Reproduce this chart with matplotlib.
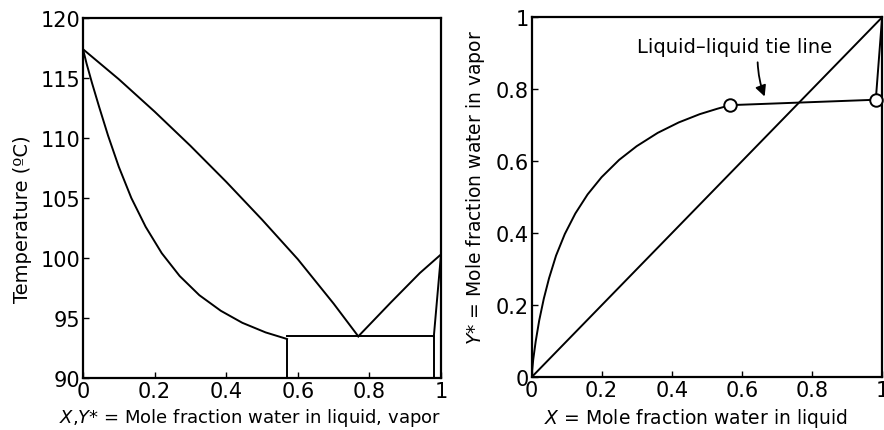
import matplotlib
matplotlib.use("Agg")
import matplotlib.pyplot as plt

plt.rcParams["font.family"] = ["DejaVu Sans"]
plt.rcParams["mathtext.fontset"] = "dejavusans"

# Left panel: T-x-y diagram, water mole fraction vs temperature
bubble_x = [0.0, 0.010, 0.025, 0.045, 0.070, 0.100, 0.135, 0.175, 0.220, 0.270,
            0.325, 0.385, 0.445, 0.510, 0.570]
bubble_t = [117.4, 116.2, 114.6, 112.6, 110.2, 107.6, 105.0, 102.6, 100.4, 98.5,
            96.9, 95.6, 94.6, 93.8, 93.25]
dew_x = [0.0, 0.1, 0.2, 0.3, 0.4, 0.5, 0.6, 0.7, 0.769]
dew_t = [117.4, 114.9, 112.2, 109.35, 106.35, 103.2, 99.9, 96.2, 93.47]
dew2_x = [0.769, 0.86, 0.941, 1.0]
dew2_t = [93.47, 96.3, 98.75, 100.3]
water_x = [0.98, 1.0]
water_t = [93.47, 100.3]
three_phase_x = [0.570, 0.98]
three_phase_t = 93.47
left_y_ticks = [90, 95, 100, 105, 110, 115, 120]

# Right panel: x-y diagram
xy_x = [0.0, 0.005, 0.012, 0.022, 0.035, 0.050, 0.070, 0.095, 0.125, 0.160,
        0.200, 0.250, 0.300, 0.360, 0.420, 0.480, 0.530, 0.567]
xy_y = [0.0, 0.050, 0.100, 0.158, 0.218, 0.275, 0.338, 0.398, 0.455, 0.508,
        0.556, 0.604, 0.642, 0.679, 0.708, 0.731, 0.746, 0.756]
ll_x = [0.567, 0.982]
ll_y = [0.756, 0.771]
end_x = [0.982, 1.0]
end_y = [0.771, 1.0]
frac_ticks = [0, 0.2, 0.4, 0.6, 0.8, 1]
frac_labels = ["0", "0.2", "0.4", "0.6", "0.8", "1"]

fig = plt.figure(figsize=(8.84, 4.31), dpi=100)
ax1 = fig.add_axes([83 / 884, 1 - 379 / 431, 358 / 884, 360 / 431])
ax2 = fig.add_axes([531.5 / 884, 1 - 378.3 / 431, 350.6 / 884, 360 / 431])

lw = 1.4
kw = dict(color="black", lw=lw, solid_joinstyle="round")
ax1.plot(bubble_x, bubble_t, **kw)
ax1.plot(dew_x, dew_t, **kw)
ax1.plot(dew2_x, dew2_t, **kw)
ax1.plot(water_x, water_t, **kw)
ax1.plot(three_phase_x, [three_phase_t, three_phase_t], **kw)
ax1.vlines(three_phase_x, 90, [bubble_t[-1], three_phase_t], color="black", lw=lw)
ax1.set_xlim(0, 1)
ax1.set_ylim(90, 120)
ax1.set_yticks(left_y_ticks)
ax1.set_xticks(frac_ticks)
ax1.set_xticklabels(frac_labels)
ax1.set_ylabel("Temperature (ºC)", fontsize=14)
ax1.set_xlabel("$X$,$Y$* = Mole fraction water in liquid, vapor", fontsize=13)
ax1.yaxis.set_label_coords(-0.142, 0.444)
ax1.xaxis.set_label_coords(0.466, -0.078)

ax2.plot(xy_x, xy_y, **kw)
ax2.plot(ll_x, ll_y, **kw)
ax2.plot(end_x, end_y, **kw)
ax2.plot([0, 1], [0, 1], **kw)
ax2.plot(ll_x, ll_y, "o", ms=9, mfc="white", mec="black", mew=1.4, clip_on=False, zorder=5)
ax2.set_xlim(0, 1)
ax2.set_ylim(0, 1)
ax2.set_xticks(frac_ticks)
ax2.set_xticklabels(frac_labels)
ax2.set_yticks(frac_ticks)
ax2.set_yticklabels(frac_labels)
ax2.set_xlabel("$X$ = Mole fraction water in liquid", fontsize=13.5)
ax2.set_ylabel("$Y$* = Mole fraction water in vapor", fontsize=13.5)
ax2.yaxis.set_label_coords(-0.127, 0.53)
ax2.xaxis.set_label_coords(0.468, -0.08)

ax2.text(0.58, 0.92, "Liquid–liquid tie line", ha="center", va="center", fontsize=14)
ax2.annotate("", xy=(0.665, 0.78), xytext=(0.645, 0.875),
             arrowprops=dict(arrowstyle="-|>", color="black", lw=1.3,
                             shrinkA=0, shrinkB=0, mutation_scale=16,
                             connectionstyle="arc3,rad=0.08"))

for ax in (ax1, ax2):
    ax.tick_params(direction="in", length=4, width=1, labelsize=15, pad=2)
    for s in ax.spines.values():
        s.set_linewidth(1.6)

fig.savefig("out.png", dpi=100)
